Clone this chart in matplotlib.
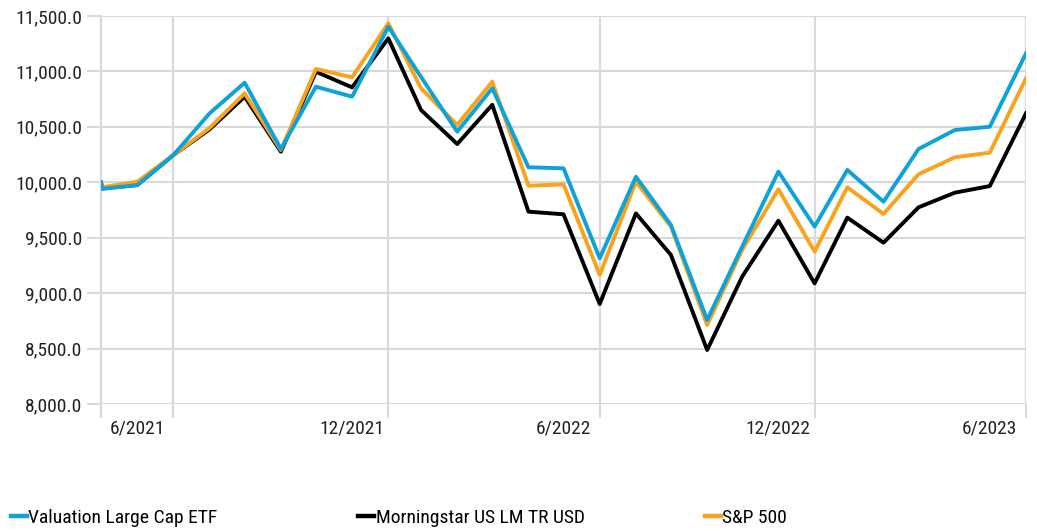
import matplotlib
matplotlib.use('Agg')
import matplotlib.pyplot as plt
from matplotlib.lines import Line2D
import pandas as pd

plt.rcParams['font.family'] = ['Roboto Condensed', 'DejaVu Sans']

# inception value, then month ends 5/2021 .. 7/2023
dates = [pd.Timestamp('2021-05-30')] + list(pd.date_range('2021-05-31', '2023-07-31', freq='ME'))

etf = [10000, 9940, 9975, 10246, 10622, 10898, 10300, 10862, 10772, 11403,
       10950, 10456, 10848, 10135, 10126, 9314, 10050, 9615, 8758, 9420,
       10096, 9600, 10111, 9825, 10300, 10471, 10501, 11163]
index_lm = [10000, 9945, 9975, 10246, 10478, 10772, 10276, 10997, 10856, 11298,
            10652, 10345, 10699, 9735, 9711, 8902, 9719, 9344, 8487, 9149,
            9653, 9088, 9681, 9455, 9774, 9906, 9966, 10622]
sp500 = [10000, 9955, 10005, 10246, 10490, 10802, 10291, 11022, 10947, 11434,
         10848, 10517, 10908, 9969, 9981, 9164, 10005, 9600, 8713, 9390,
         9937, 9374, 9955, 9714, 10072, 10225, 10267, 10938]

names = ['Valuation Large Cap ETF', 'Morningstar US LM TR USD', 'S&P 500']
colors = ['#0da2d8', '#000000', '#f9a31c']

label_dates = pd.to_datetime(['2021-06-30', '2021-12-31', '2022-06-30', '2022-12-31', '2023-06-30'])
grid_dates = pd.to_datetime(['2021-07-31', '2022-01-31', '2022-07-31', '2023-01-31', '2023-07-31'])
label_text = ['6/2021', '12/2021', '6/2022', '12/2022', '6/2023']

fig = plt.figure(figsize=(10.37, 5.31), dpi=100)
ax = fig.add_axes([0.0974, 0.2392, 0.892, 0.7307])

ax.plot(dates, index_lm, color=colors[1], lw=2.8, zorder=3)
ax.plot(dates, sp500, color=colors[2], lw=2.8, zorder=4)
ax.plot(dates, etf, color=colors[0], lw=2.8, zorder=5)

ax.set_ylim(8000, 11500)
ax.set_xlim(dates[0], dates[-1])
ax.set_yticks(range(8000, 11501, 500))
ax.set_yticklabels([f'{v:,.1f}' for v in range(8000, 11501, 500)], fontsize=14, color='#222222')

ax.set_xticks(label_dates)
ax.set_xticklabels(label_text, fontsize=14, color='#222222')
ax.set_xticks(grid_dates, minor=True)
ax.tick_params(axis='x', which='major', length=0, pad=11)
ax.tick_params(axis='x', which='minor', length=10, width=1.5, color='#d9d9d9')
ax.tick_params(axis='y', length=10, width=1.5, color='#d9d9d9', pad=3.5)

ax.grid(axis='y', color='#d9d9d9', lw=1.5)
ax.grid(axis='x', which='minor', color='#d9d9d9', lw=1.5)
ax.set_axisbelow(True)

for s in ['top', 'right', 'bottom']:
    ax.spines[s].set_visible(False)
ax.spines['left'].set_color('#d9d9d9')
ax.spines['left'].set_linewidth(1.5)
ax.spines['left'].set_bounds(8000 - 120, 11500)

# legend entries on a fixed grid
for name, c, xpx in zip(names, colors, [11, 358, 705]):
    fig.legend([Line2D([], [], color=c, lw=3.2)], [name], loc='center left',
               bbox_to_anchor=(xpx / 1037, 1 - 518 / 531), frameon=False, fontsize=14,
               handlelength=0.8, handletextpad=0.1, borderpad=0, borderaxespad=0)

fig.savefig('out.png', dpi=100)
